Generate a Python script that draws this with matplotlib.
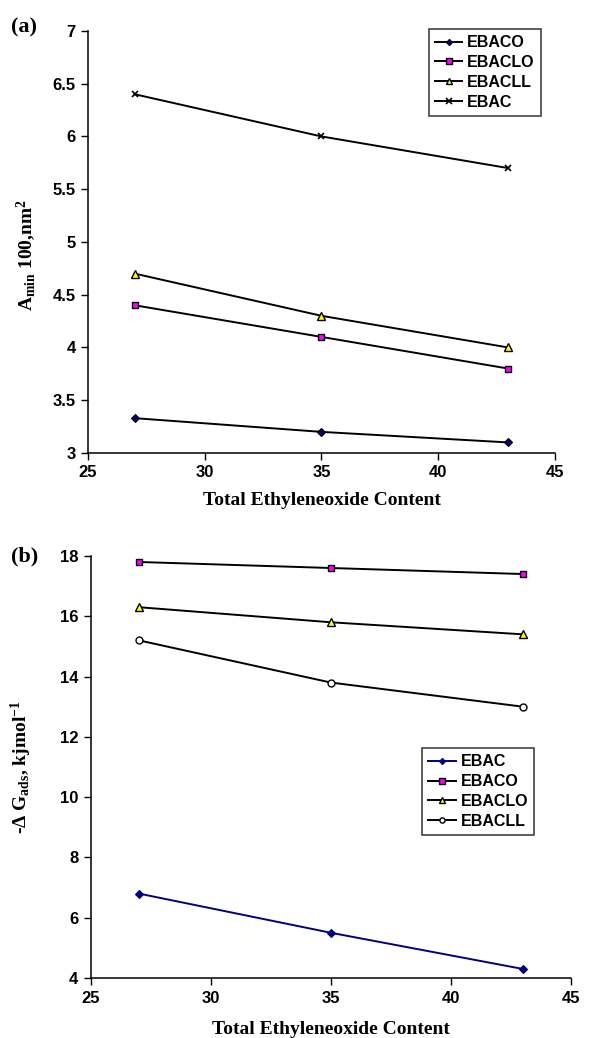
import matplotlib
matplotlib.use("Agg")
import matplotlib.pyplot as plt

plt.rcParams['font.family'] = ['Liberation Sans', 'DejaVu Sans']
plt.rcParams['font.weight'] = 'bold'
plt.rcParams['mathtext.fontset'] = 'custom'
plt.rcParams['mathtext.rm'] = 'Liberation Serif:bold'
plt.rcParams['mathtext.bf'] = 'Liberation Serif:bold'
plt.rcParams['mathtext.it'] = 'Liberation Serif:bold'

# Total ethylene oxide content
eo_content = [27, 35, 43]

# Panel (a): minimum area per molecule
a_ebaco = [3.33, 3.2, 3.1]
a_ebaclo = [4.4, 4.1, 3.8]
a_ebacll = [4.7, 4.3, 4.0]
a_ebac = [6.4, 6.0, 5.7]

# Panel (b): free energy of adsorption
b_ebac = [6.8, 5.5, 4.3]
b_ebaco = [17.8, 17.6, 17.4]
b_ebaclo = [16.3, 15.8, 15.4]
b_ebacll = [15.2, 13.8, 13.0]

x_ticks = [25, 30, 35, 40, 45]

fig = plt.figure(figsize=(6.16, 10.38), dpi=100)
ax1 = fig.add_axes([0.1429, 0.5636, 0.758, 0.4066])
ax2 = fig.add_axes([0.1477, 0.0578, 0.779, 0.4066])

lw = 1.4
ms = 5.0

ax1.plot(eo_content, a_ebaco, color='black', lw=lw, marker='D', ms=4.2,
         mfc='#000080', mec='black', mew=0.8, label='EBACO')
ax1.plot(eo_content, a_ebaclo, color='black', lw=lw, marker='s', ms=ms,
         mfc='#ff00ff', mec='black', mew=1.0, label='EBACLO')
ax1.plot(eo_content, a_ebacll, color='black', lw=lw, marker='^', ms=ms + 0.5,
         mfc='#ffff00', mec='black', mew=1.0, label='EBACLL')
ax1.plot(eo_content, a_ebac, color='black', lw=lw, marker='x', ms=ms,
         mec='black', mew=1.2, label='EBAC')

ax2.plot(eo_content, b_ebac, color='#000080', lw=lw, marker='D', ms=4.2,
         mfc='#000080', mec='#000080', mew=0.8, label='EBAC')
ax2.plot(eo_content, b_ebaco, color='black', lw=lw, marker='s', ms=ms,
         mfc='#ff00ff', mec='black', mew=1.0, label='EBACO')
ax2.plot(eo_content, b_ebaclo, color='black', lw=lw, marker='^', ms=ms + 0.5,
         mfc='#ffff00', mec='black', mew=1.0, label='EBACLO')
ax2.plot(eo_content, b_ebacll, color='black', lw=lw, marker='o', ms=ms,
         mfc='white', mec='black', mew=1.0, label='EBACLL')

ax1.set_ylim(3, 7)
ax1.set_yticks([3, 3.5, 4, 4.5, 5, 5.5, 6, 6.5, 7],
               ['3', '3.5', '4', '4.5', '5', '5.5', '6', '6.5', '7'])
ax2.set_ylim(4, 18)
ax2.set_yticks([4, 6, 8, 10, 12, 14, 16, 18])

for ax, pad in ((ax1, 8), (ax2, 11)):
    ax.set_xlim(25, 45)
    ax.set_xticks(x_ticks)
    for s in ('top', 'right'):
        ax.spines[s].set_visible(False)
    for s in ('left', 'bottom'):
        ax.spines[s].set_linewidth(1.1)
    ax.tick_params(direction='out', length=5, width=1.0, labelsize=12, pad=4)
    ax.set_xlabel('Total Ethyleneoxide Content', family='Liberation Serif',
                  fontweight='bold', fontsize=14, labelpad=pad)

ax1.set_ylabel(r'A$_{\mathbf{min}}$ 100,nm$^{\mathbf{2}}$', family='Liberation Serif',
               fontweight='bold', fontsize=14)
ax2.set_ylabel(r'-$\Delta$ G$_{\mathbf{ads}}$, kjmol$^{\mathbf{-1}}$',
               family='Liberation Serif', fontweight='bold', fontsize=14)
ax1.yaxis.set_label_coords(-0.108, 0.47)
ax2.yaxis.set_label_coords(-0.118, 0.5)

leg_kw = dict(frameon=True, fancybox=False, edgecolor='black', handlelength=1.7,
              handletextpad=0.3, borderpad=0.4, labelspacing=0.3,
              borderaxespad=0.0, markerscale=0.75,
              prop={'family': 'Liberation Sans', 'weight': 'bold', 'size': 11.5})
l1 = ax1.legend(loc='upper left', bbox_to_anchor=(0.730, 1.005), **leg_kw)
l2 = ax2.legend(loc='upper left', bbox_to_anchor=(0.690, 0.545), **leg_kw)
for lg in (l1, l2):
    lg.get_frame().set_linewidth(1.1)

fig.text(0.018, 0.974, '(a)', family='Liberation Serif', fontweight='bold',
         fontsize=16, va='center')
fig.text(0.018, 0.4635, '(b)', family='Liberation Serif', fontweight='bold',
         fontsize=16, va='center')

fig.savefig('out.png', dpi=100)
